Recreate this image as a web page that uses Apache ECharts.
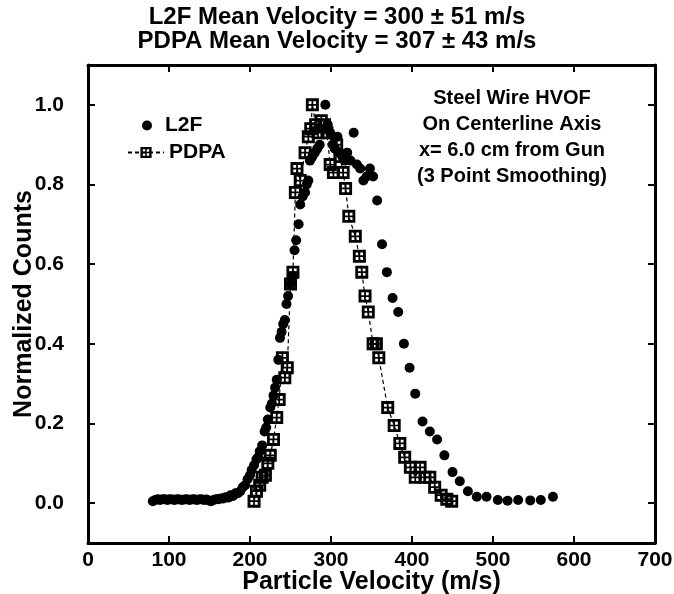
<!DOCTYPE html>
<html>
<head>
<meta charset="utf-8">
<script src="https://cdn.jsdelivr.net/npm/echarts@6/dist/echarts.min.js"></script>
<style>
  html, body { margin: 0; padding: 0; background: #fff; }
  #chart { width: 674px; height: 594px; }
</style>
</head>
<body>
<div id="chart"></div>
<script>
// L2F (time-of-flight bins, dense at low velocity)
const l2fVelocity = [80, 83, 86, 89, 92, 95, 98, 101, 104, 107, 110, 113, 116, 119, 122, 125, 128, 131, 134, 137,
    140, 143, 146, 149, 152, 155, 158, 161, 164, 167, 170, 173, 176, 179, 182, 185, 188, 191, 194, 197,
    200, 202, 205, 208, 210, 212, 215, 218, 220, 222, 225, 227, 229, 231, 233, 235, 237, 239, 241, 243,
    245, 247, 250, 253, 255, 257, 260, 262, 265, 268, 270, 272, 274, 277, 280, 283, 286, 290, 293, 296,
    299, 302, 305, 308, 311, 314, 317, 320, 324, 328, 332, 336, 340, 344, 348, 352, 357, 363, 369, 376,
    383, 390, 397, 404, 413, 422, 431, 440, 450, 459, 469, 480, 492, 506, 518, 531, 546, 559, 574];
const l2fCounts = [0.005, 0.008, 0.01, 0.008, 0.01, 0.01, 0.008, 0.01, 0.009, 0.008, 0.01, 0.009, 0.008, 0.009, 0.01, 0.008, 0.009, 0.01, 0.008, 0.009,
    0.01, 0.008, 0.009, 0.007, 0.005, 0.008, 0.01, 0.01, 0.012, 0.012, 0.015, 0.014, 0.02, 0.018, 0.025, 0.025, 0.03, 0.04, 0.045, 0.06,
    0.07, 0.083, 0.095, 0.11, 0.115, 0.13, 0.145, 0.18, 0.19, 0.21, 0.24, 0.25, 0.27, 0.29, 0.31, 0.36, 0.415, 0.43, 0.45, 0.46,
    0.50, 0.52, 0.55, 0.57, 0.635, 0.66, 0.70, 0.75, 0.77, 0.78, 0.80, 0.81, 0.86, 0.87, 0.88, 0.89, 0.90, 0.94, 1.0, 0.95,
    0.93, 0.90, 0.89, 0.92, 0.88, 0.87, 0.86, 0.88, 0.86, 0.93, 0.85, 0.84, 0.81, 0.82, 0.84, 0.82, 0.76, 0.65, 0.58, 0.515,
    0.48, 0.40, 0.34, 0.275, 0.205, 0.18, 0.16, 0.12, 0.078, 0.055, 0.03, 0.016, 0.016, 0.008, 0.006, 0.008, 0.007, 0.008, 0.016];

// PDPA
const pdpaVelocity = [205, 208, 212, 215, 219, 222, 225, 229, 233, 236, 240, 243, 246, 250, 253, 256, 258, 262, 268, 272,
    275, 277, 281, 284, 288, 292, 295, 299, 303, 307, 311, 315, 318, 322, 330, 335, 338, 342, 346, 352,
    356, 359, 370, 378, 385, 391, 398, 404, 410, 416, 422, 428, 436, 443, 449];
const pdpaCounts = [0.005, 0.03, 0.045, 0.065, 0.07, 0.10, 0.12, 0.16, 0.215, 0.26, 0.365, 0.315, 0.34, 0.55, 0.58, 0.78, 0.84, 0.81, 0.88, 0.92,
    0.94, 1.0, 0.95, 0.93, 0.96, 0.95, 0.93, 0.85, 0.83, 0.90, 0.87, 0.83, 0.79, 0.72, 0.67, 0.62, 0.58, 0.52, 0.48, 0.40,
    0.40, 0.365, 0.24, 0.195, 0.15, 0.115, 0.09, 0.065, 0.09, 0.065, 0.065, 0.04, 0.02, 0.01, 0.005];

const yTicks = [0, 0.2, 0.4, 0.6, 0.8, 1.0];

const font = '"Liberation Sans", Arial, Helvetica, sans-serif';
const squareSymbol = 'path://M0,0H12V12H0Z M2.6,2.6V5.2H5.2V2.6Z M6.8,2.6V5.2H9.4V2.6Z M2.6,6.8V9.4H5.2V6.8Z M6.8,6.8V9.4H9.4V6.8Z';

const chart = echarts.init(document.getElementById('chart'));

const axisLine = { show: true, onZero: false, lineStyle: { color: '#000', width: 3 } };
const axisTick = { show: true, inside: true, length: 7, lineStyle: { color: '#000', width: 2 } };
const labelStyle = { color: '#000', fontSize: 21, fontWeight: 'bold', fontFamily: font };
const nameStyle = { color: '#000', fontSize: 25, fontWeight: 'bold', fontFamily: font };

chart.setOption({
    animation: false,
    backgroundColor: '#fff',
    title: {
        text: 'L2F Mean Velocity = 300 \u00b1 51 m/s\nPDPA Mean Velocity = 307 \u00b1 43 m/s',
        left: 'center',
        top: 0,
        textStyle: { color: '#000', fontSize: 24, fontWeight: 'bold', fontFamily: font, lineHeight: 24 }
    },
    legend: [
        {
            data: [{ name: 'L2F', icon: 'circle' }],
            left: 137, top: 110,
            itemWidth: 26, itemHeight: 10,
            textStyle: labelStyle
        },
        {
            data: ['PDPA'],
            left: 122, top: 137,
            itemWidth: 36, itemHeight: 14,
            textStyle: labelStyle
        }
    ],
    graphic: [{
        type: 'text',
        x: 512, y: 85,
        style: {
            text: 'Steel Wire HVOF\nOn Centerline Axis\nx= 6.0 cm from Gun\n(3 Point Smoothing)',
            align: 'center', verticalAlign: 'top',
            fontSize: 20, fontWeight: 'bold', fontFamily: font, lineHeight: 26, fill: '#000'
        }
    }],
    grid: { left: 88, right: 19, top: 65, bottom: 51, outerBoundsMode: 'none' },
    xAxis: [
        {
            type: 'value', min: 0, max: 700, interval: 100,
            name: 'Particle Velocity (m/s)', nameLocation: 'middle', nameGap: 27, nameMoveOverlap: false,
            nameTextStyle: nameStyle,
            axisLine, axisTick,
            axisLabel: Object.assign({ margin: 7 }, labelStyle),
            splitLine: { show: false }
        },
        {
            type: 'value', position: 'top', min: 0, max: 700, interval: 100,
            axisLine, axisTick, axisLabel: { show: false }, splitLine: { show: false }
        }
    ],
    yAxis: [
        {
            type: 'value', min: -0.1, max: 1.1,
            name: 'Normalized Counts', nameLocation: 'middle', nameGap: 51, nameMoveOverlap: false,
            nameTextStyle: nameStyle,
            axisLine,
            axisTick: Object.assign({ customValues: yTicks }, axisTick),
            axisLabel: Object.assign({ customValues: yTicks, margin: 24, formatter: v => v.toFixed(1) }, labelStyle),
            splitLine: { show: false }
        },
        {
            type: 'value', position: 'right', min: -0.1, max: 1.1,
            axisLine,
            axisTick: Object.assign({ customValues: yTicks }, axisTick),
            axisLabel: { show: false }, splitLine: { show: false }
        }
    ],
    series: [
        {
            name: 'L2F',
            type: 'scatter',
            symbol: 'circle',
            symbolSize: 10,
            itemStyle: { color: '#000', opacity: 1 },
            data: l2fVelocity.map((v, i) => [v, l2fCounts[i]])
        },
        {
            name: 'PDPA',
            type: 'line',
            symbol: squareSymbol,
            symbolSize: 13,
            showAllSymbol: true,
            itemStyle: { color: '#000' },
            lineStyle: { color: '#000', width: 1.2, type: [4, 3] },
            data: pdpaVelocity.map((v, i) => [v, pdpaCounts[i]])
        }
    ]
});
</script>
</body>
</html>
